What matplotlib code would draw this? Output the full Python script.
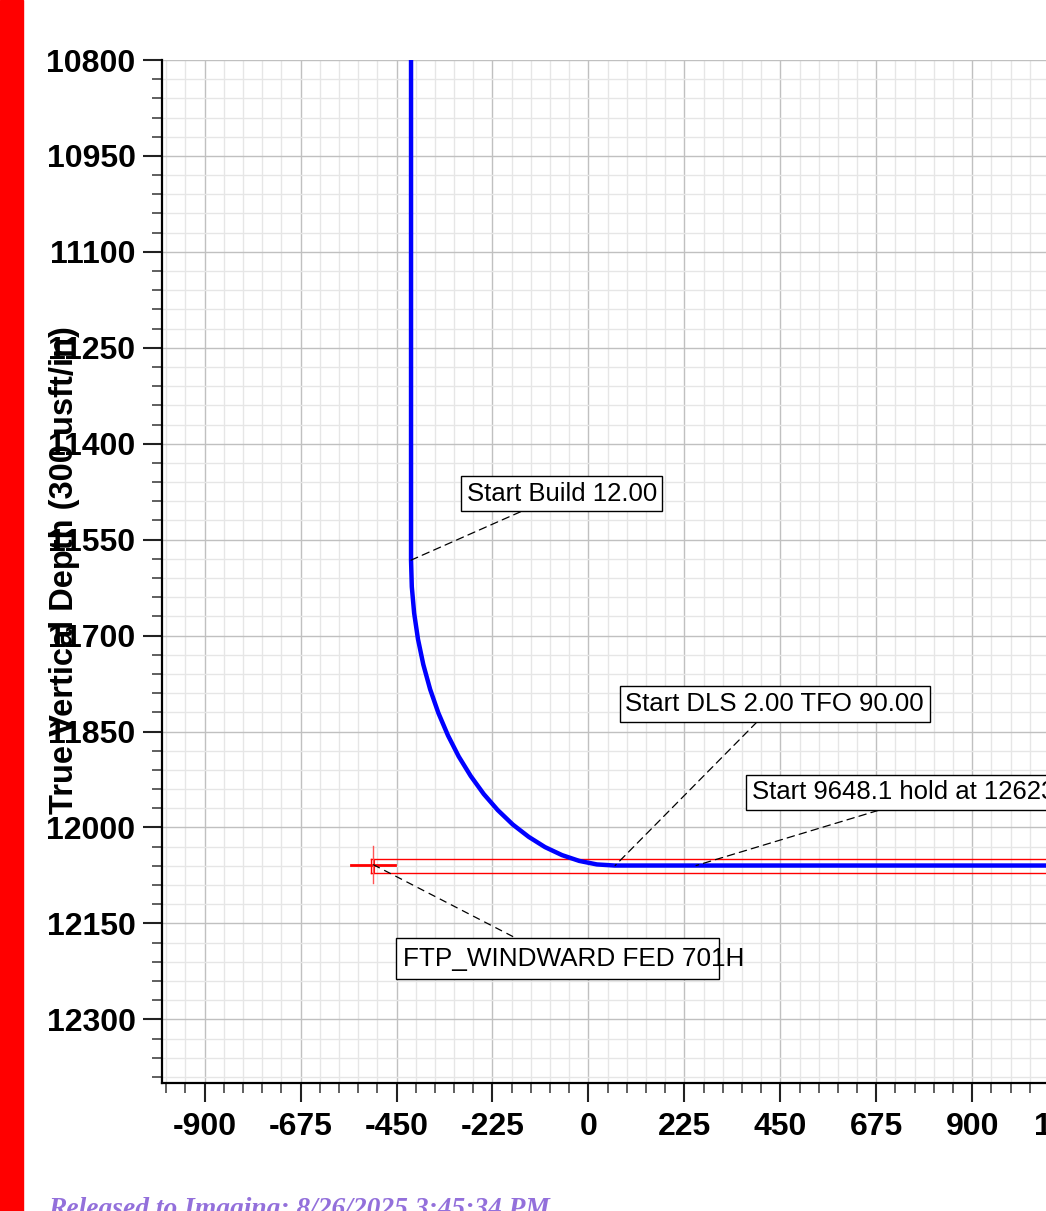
import matplotlib.pyplot as plt
from matplotlib.patches import Rectangle
from matplotlib.ticker import MultipleLocator

# wellbore section, vertical section (usft) vs TVD (usft), stations every 5 deg through the build
vs = [-416, -416, -414.2, -408.7, -399.7, -387.2, -371.3, -352.0, -329.4, -304.3, -276.0,
      -245.4, -212.7, -177.2, -140.0, -101.8, -62.0, -21.4, 19.9, 61.5, 254.0, 1200.0]
tvd = [10800, 11582, 11623.6, 11664.9, 11705.6, 11745.3, 11783.8, 11820.8, 11856.1, 11888.9,
       11919.6, 11947.8, 11972.8, 11995.5, 12014.7, 12030.7, 12043.2, 12052.3, 12057.8, 12059.5,
       12059.5, 12059.5]

# target window
target_left = -511
target_right = 1300
target_top = 12050
target_bottom = 12071
ftp_x = -505
ftp_tvd = 12058

# annotation labels: text, point on well, label centre
labels = ["Start Build 12.00", "Start DLS 2.00 TFO 90.00",
          "Start 9648.1 hold at 12623.1 MD"]
label_pts = [(-416, 11582), (62.6, 12059.5), (252.4, 12059.5)]
label_pos = [(-62.8, 11478), (436.8, 11807), (820.0, 11945)]

ftp_label = "FTP_WINDWARD FED 701H"

xticks = [-900, -675, -450, -225, 0, 225, 450, 675, 900, 1125]
yticks = [10800, 10950, 11100, 11250, 11400, 11550, 11700, 11850, 12000, 12150, 12300]

plt.rcParams['font.family'] = ['Liberation Sans', 'DejaVu Sans']

fig = plt.figure(figsize=(10.46, 12.11), dpi=100)
# axes run a little past the right edge of the page, as in the scan
ax = fig.add_axes([162 / 1046, 1 - 1083.3 / 1211, (1070.3 - 162) / 1046, (1083.3 - 60) / 1211])

ax.xaxis.set_minor_locator(MultipleLocator(45))
ax.yaxis.set_minor_locator(MultipleLocator(30))
ax.set_xticks(xticks)
ax.set_yticks(yticks)
ax.set_xticklabels([str(t) for t in xticks], fontsize=23, fontweight='bold')
ax.set_yticklabels([str(t) for t in yticks], fontsize=23, fontweight='bold')

ax.grid(which='minor', color='#e6e6e6', linewidth=1.0)
ax.grid(which='major', color='#c0c0c0', linewidth=1.0)
ax.set_axisbelow(True)

ax.tick_params(which='major', length=14, width=1.5, color='#222222', pad=5)
ax.tick_params(axis='x', which='major', pad=7)
ax.tick_params(which='minor', length=7, width=1.2, color='#444444')

for s in ['top', 'right']:
    ax.spines[s].set_visible(False)
for s in ['left', 'bottom']:
    ax.spines[s].set_linewidth(1.6)
    ax.spines[s].set_color('black')

# target box and first take point marker
ax.plot([target_left, target_right], [target_top, target_top], color='red', lw=1.0, zorder=3)
ax.plot([target_left, target_right], [target_bottom, target_bottom], color='red', lw=1.0, zorder=3)
ax.plot([target_left, target_left], [target_top, target_bottom], color='red', lw=1.0, zorder=3)
ax.plot([target_left + 8, target_left + 8], [target_top, target_bottom], color='red', lw=0.8, zorder=3)
ax.plot([ftp_x - 51, ftp_x + 51], [ftp_tvd, ftp_tvd], color='red', lw=2.0, zorder=3)
ax.plot([ftp_x, ftp_x], [ftp_tvd - 29, ftp_tvd + 29], color='#ff5555', lw=1.0, zorder=3)

# wellbore
ax.plot(vs, tvd, color='blue', lw=3.2, zorder=4, solid_capstyle='butt')

for txt, pt, pos in zip(labels, label_pts, label_pos):
    ax.annotate(txt, xy=pt, xytext=pos, fontsize=18.5, ha='center', va='center',
                bbox=dict(boxstyle='square,pad=0.22', fc='white', ec='black', lw=1.0),
                arrowprops=dict(arrowstyle='-', linestyle=(0, (6, 4)), color='black', lw=0.9,
                                shrinkA=0, shrinkB=0),
                zorder=5, annotation_clip=False)

# FTP label: the text runs out past its box in the original
ax.add_patch(Rectangle((-451, 12173), 758, 64.5, fc='white', ec='black', lw=1.0, zorder=5))
ax.plot([ftp_x, -170], [ftp_tvd, 12173], color='black', lw=0.9, ls=(0, (6, 4)), zorder=5)
ax.text(-434, 12206, ftp_label, fontsize=18.8, ha='left', va='center', zorder=6)

# limits last, so the tick setting does not widen them
ax.set_xlim(-1000, 1130)
ax.set_ylim(12400, 10800)

fig.text(65 / 1046, 1 - 570 / 1211, "True Vertical Depth (300 usft/in)", rotation=90,
         ha='center', va='center', fontsize=23.5, fontweight='bold')

fig.patches.append(Rectangle((0, 0), 23 / 1046, 1, transform=fig.transFigure,
                             color='red', zorder=10))

fig.text(48 / 1046, -0.004, "Released to Imaging: 8/26/2025 3:45:34 PM",
         fontsize=19.8, fontweight='bold', fontstyle='italic', color='#9370DB',
         family='Liberation Serif', va='baseline', ha='left')

fig.savefig('out.png', dpi=100)
